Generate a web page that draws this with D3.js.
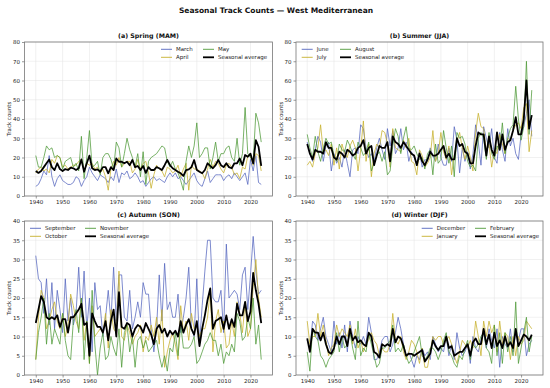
<!DOCTYPE html>
<html><head><meta charset="utf-8">
<script src="https://cdn.jsdelivr.net/npm/d3@7"></script>
<style>body{margin:0;background:#fff}svg{display:block;font-family:"DejaVu Sans",sans-serif}</style>
</head><body><svg id="c" width="550" height="388"></svg>
<script>
const years = [1940,1941,1942,1943,1944,1945,1946,1947,1948,1949,1950,1951,1952,1953,1954,1955,1956,1957,1958,1959,1960,1961,1962,1963,1964,1965,1966,1967,1968,1969,1970,1971,1972,1973,1974,1975,1976,1977,1978,1979,1980,1981,1982,1983,1984,1985,1986,1987,1988,1989,1990,1991,1992,1993,1994,1995,1996,1997,1998,1999,2000,2001,2002,2003,2004,2005,2006,2007,2008,2009,2010,2011,2012,2013,2014,2015,2016,2017,2018,2019,2020,2021,2022,2023,2024];
const xTicks = [1940,1950,1960,1970,1980,1990,2000,2010,2020];
const yTicksHigh = [0,10,20,30,40,50,60,70,80];
const yTicksLow = [0,5,10,15,20,25,30,35,40];

// Spring
const march = [5,6,9,13,11,21,10,5,9,11, 8,7,6,6,7,10,9,5,8,10, 15,12,10,8,11,10,9,7,10,8, 14,7,12,11,13,9,10,12,10,7, 8,5,7,9,10,8,9,8,7,10, 12,10,12,9,10,8,6,8,10,12, 8,6,5,9,13,7,9,11,11,11, 8,10,11,9,12,10,8,10,12,6, 19,13,21,7,6];
const april = [12,14,15,13,14,12,19,17,21,20, 15,16,14,15,16,16,18,19,13,17, 16,17,14,15,12,14,10,3,14,18, 16,20,15,17,18,18,12,14,19,14, 17,18,12,4,11,16,14,13,10,15, 14,12,13,16,10,14,17,3,16,14, 14,13,12,9,14,19,15,18,17,14, 12,16,17,15,11,12,9,15,14,21, 21,16,22,21,13];
const may = [21,15,15,20,26,24,25,20,21,20, 14,18,19,20,15,17,13,31,9,20, 34,15,16,18,11,20,22,22,19,14, 28,25,15,22,30,24,20,15,22,10, 23,6,18,20,21,22,24,26,25,18, 15,18,14,12,8,3,18,26,20,26, 38,20,22,25,25,14,20,28,18,22, 22,25,26,20,18,30,16,22,46,22, 20,18,43,38,28];
const springAvg = [13,12,13,15,17,19,15,13.5,17,14, 13,14,13.5,14.7,14.4,13.5,14.4,19,12.6,17, 21,14.4,13.5,13.8,12.6,15,15,11.8,15,13.5, 19.5,17.8,17.8,17,17.8,16,18.7,15,15.6,13.5, 15.6,12,15,13.5,13.5,15,14.4,13.5,16,18.7, 16,14.4,13.5,12.6,11.8,10.4,13.5,13.8,15,18.7, 13.5,12.6,11.8,13.5,17,15.6,14.4,16,18.7,16, 15,17,15,14.4,17,17,19.5,16,21.3,20.4, 22,17,29,25.6,15.6];

// Summer
const june = [28,22,18,24,31,28,18,26,28,13, 22,17,20,15,24,17,10,24,25,22, 37,35,25,20,22,18,25,30,24,19, 35,26,34,22,25,35,24,28,18,23, 20,17,23,15,19,18,25,21,18,27, 20,16,16,25,18,36,29,12,25,18, 23,14,22,37,28,16,36,30,25,35, 20,17,33,24,18,35,26,30,22,19, 32,36,43,50,31];
const july = [16,18,15,22,25,37,23,24,21,27, 16,25,14,27,22,20,26,29,25,13, 24,39,18,27,10,22,27,25,34,33, 27,15,35,25,24,23,29,25,30,18, 17,11,24,21,15,17,20,34,18,22, 33,23,19,26,11,21,28,33,25,19, 26,20,13,33,43,36,35,23,27,15, 24,22,32,27,22,30,29,34,37,38, 35,46,48,23,34];
const august = [32,25,20,31,23,18,25,30,27,28, 21,18,27,24,23,29,26,22,19,28, 25,21,23,28,13,17,21,23,18,23, 11,13,26,35,31,22,30,36,25,24, 26,22,19,20,14,22,24,11,27,17, 19,34,25,17,26,10,33,30,31,27, 18,15,16,13,30,33,30,19,33,22, 19,26,24,38,22,30,35,37,57,40, 29,36,70,32,55];
const summerAvg = [27,22,19,24,23,23,22,28,25,25, 20,19,23,22,20,24,23,21,22,25, 26,29,22,25,26,16,21,26,25,25, 28,18,31,28,27,25,28,26,24,22, 21,16,22,18,16,19,23,21,21,22, 24,26,20,22,19,19,30,26,27,23, 22,17,17,26,33,32,32,21,31,24, 21,33,24,32,24,28,29,34,41,32, 32,40,60,35,42];

// Autumn
const september = [31,25,24,16,25,13,24,12,22,17, 11,25,14,20,13,16,28,15,27,12, 20,6,24,17,18,10,15,22,14,28, 14,26,26,15,14,22,12,15,19,15, 24,21,21,12,6,12,26,14,29,17, 19,15,15,21,11,15,20,28,12,10, 25,8,18,27,35,35,20,19,19,22, 11,34,20,21,22,21,17,26,28,17, 26,36,27,21,22];
const october = [4,15,22,20,12,14,17,19,14,12, 16,10,13,21,18,14,12,20,9,14, 3,18,10,11,12,11,16,7,17,12, 11,27,10,9,13,11,8,10,11,13, 6,10,9,13,10,15,8,17,2,6, 9,11,8,4,18,11,14,9,16,12, 13,10,12,12,15,22,6,14,17,11, 14,7,8,14,10,19,16,11,19,10, 12,23,30,20,15];
const november = [4,11,15,20,8,16,8,12,10,8, 16,9,5,4,14,17,11,20,4,14, 3,22,8,0,7,11,4,5,10,7, 5,12,2,11,13,6,10,2,9,10, 7,9,6,7,8,9,5,2,5,1, 7,6,11,5,13,7,7,7,8,10, 3,4,6,8,9,11,9,9,5,8, 3,6,5,8,6,16,14,9,10,15, 12,20,8,13,4];
const autumnAvg = [13.5,17,20.5,19,15,14.5,15,14.5,15.5,12.5, 14.5,14.5,11,15,15,16,17,18.5,13,13.5, 5,16,14,12.5,12.5,11,14,9,14,17, 10,21.5,12.5,12,13.5,13,10,12,13,12.5, 11,13.5,12,10.5,8,12,13,11,12,10, 11.5,10.5,11.5,10,14,11,13,14.5,12,10.5, 14,7.5,12,15.5,19.5,22.5,12,14,14.5,15, 12,15.5,12,14.5,12.5,18.5,15.5,15.5,19,14, 16.5,26.5,22,18.5,13.5];

// Winter
const december = [9,7,14,13,9,12,15,10,8,6, 14,8,11,7,13,6,14,10,7,10, 8,10,8,15,11,4,4,6,9,10, 10,6,8,11,15,12,8,5,6,4, 2,5,4,7,5,6,4,10,8,6, 7,6,10,5,8,4,11,7,5,6, 8,3,10,7,6,9,11,7,12,9, 7,12,2,10,8,7,12,6,11,9, 12,12,5,8,9];
const january = [14,8,10,10,16,10,13,9,5,7, 8,13,10,12,11,10,13,8,12,7, 9,6,8,9,11,9,8,5,7,6, 6,8,16,9,8,10,6,4,6,9, 8,6,3,7,2,2,6,10,9,10, 10,8,9,10,8,5,3,6,9,8, 7,9,7,14,10,5,14,10,14,11, 13,6,14,8,11,10,4,10,5,10, 8,9,14,13,12];
const february = [6,1,12,10,9,5,4,2,4,5, 6,11,6,10,7,8,11,7,4,14, 5,7,6,11,8,5,2,3,7,7, 8,9,13,6,7,6,8,5,3,4, 6,8,10,5,4,5,7,7,6,4, 6,9,11,6,5,3,2,5,4,7, 9,4,8,7,8,10,11,7,6,3, 13,5,11,3,11,6,10,5,19,3, 7,11,15,6,10];
const winterAvg = [9.5,6,12,11,11,9,11,8,6,5.5, 7,10,8,10,10,7.5,12,9,10,8.5, 9,8,7.5,11,10,6,5.5,4.5,8,7.5, 8,7.5,12,8.5,10,9.5,7.5,5,5.5,5.5, 5,5.5,6,6.5,3.5,4.5,5.5,9,7.5,6.5, 7.5,7.5,10,7,7.5,5,5.5,6,6,7, 8,5,8.5,9.5,8,8,12,8,10.5,7, 11,7.5,9,7,10,7.5,8.5,7,12,7.5, 9,10.5,10,9,10.5];

const colBlue = "#5566bf", colYellow = "#c6b02c", colGreen = "#4f9a38";

const panels = [
  {title:"(a)  Spring (MAM)", names:["March","April","May"], series:[march,april,may], avg:springAvg, yTicks:yTicksHigh, yMax:80, legend:"right"},
  {title:"(b)  Summer (JJA)", names:["June","July","August"], series:[june,july,august], avg:summerAvg, yTicks:yTicksHigh, yMax:80, legend:"left"},
  {title:"(c)  Autumn (SON)", names:["September","October","November"], series:[september,october,november], avg:autumnAvg, yTicks:yTicksLow, yMax:40, legend:"left"},
  {title:"(d)  Winter (DJF)", names:["December","January","February"], series:[december,january,february], avg:winterAvg, yTicks:yTicksLow, yMax:40, legend:"right"}
];

const svg = d3.select("#c");
svg.append("text").attr("x",276).attr("y",13).attr("text-anchor","middle")
  .attr("font-weight","bold").attr("font-size",7.5).attr("fill","#111")
  .text("Seasonal Track Counts \u2014 West Mediterranean");

const boxes = [
  {x0:24.5,x1:272.5,y0:42,y1:196},
  {x0:296,x1:543,y0:42,y1:196},
  {x0:24.5,x1:272.5,y0:221,y1:375},
  {x0:296,x1:543,y0:221,y1:375}
];
const colors = [colBlue,colYellow,colGreen];

panels.forEach((p,i)=>{
  const b = boxes[i];
  const x = d3.scaleLinear().domain([1935.8,2028.2]).range([b.x0,b.x1]);
  const y = d3.scaleLinear().domain([0,p.yMax]).range([b.y1,b.y0]);
  const g = svg.append("g");
  g.append("g").selectAll("line").data(xTicks).join("line")
    .attr("x1",d=>x(d)).attr("x2",d=>x(d)).attr("y1",b.y0).attr("y2",b.y1)
    .attr("stroke","#e3e3e3").attr("stroke-width",0.5);
  g.append("g").selectAll("line").data(p.yTicks).join("line")
    .attr("y1",d=>y(d)).attr("y2",d=>y(d)).attr("x1",b.x0).attr("x2",b.x1)
    .attr("stroke","#e3e3e3").attr("stroke-width",0.5);
  const ax = g.append("g").attr("transform",`translate(0,${b.y1})`)
    .call(d3.axisBottom(x).tickValues(xTicks).tickFormat(d3.format("d")).tickSize(2.5).tickPadding(2));
  const ay = g.append("g").attr("transform",`translate(${b.x0},0)`)
    .call(d3.axisLeft(y).tickValues(p.yTicks).tickFormat(d3.format("d")).tickSize(2.5).tickPadding(2));
  [ax,ay].forEach(a=>{
    a.select(".domain").remove();
    a.selectAll(".tick line").attr("stroke","#555").attr("stroke-width",0.6);
    a.selectAll(".tick text").attr("font-size",5.5).attr("fill","#222").attr("font-family","DejaVu Sans");
  });
  const line = d3.line().x((d,k)=>x(years[k])).y(d=>y(d));
  p.series.forEach((s,k)=>{
    g.append("path").datum(s).attr("d",line).attr("fill","none")
      .attr("stroke",colors[k]).attr("stroke-width",0.85).attr("stroke-opacity",0.9)
      .attr("stroke-linejoin","round");
  });
  g.append("path").datum(p.avg).attr("d",line).attr("fill","none")
    .attr("stroke","#000").attr("stroke-width",1.8).attr("stroke-linejoin","round");
  g.append("rect").attr("x",b.x0).attr("y",b.y0).attr("width",b.x1-b.x0).attr("height",b.y1-b.y0)
    .attr("fill","none").attr("stroke","#777").attr("stroke-width",0.8);
  g.append("text").attr("x",(b.x0+b.x1)/2).attr("y",b.y0-4.5).attr("text-anchor","middle")
    .attr("font-weight","bold").attr("font-size",6.3).attr("fill","#111").text(p.title);
  g.append("text").attr("transform",`translate(${b.x0-13.5},${(b.y0+b.y1)/2}) rotate(-90)`)
    .attr("text-anchor","middle").attr("font-size",5.5).attr("fill","#222").text("Track counts");
  const items = [
    {name:p.names[0],col:colBlue,w:0.9},{name:p.names[1],col:colYellow,w:0.9},
    {name:p.names[2],col:colGreen,w:0.9},{name:"Seasonal average",col:"#000",w:1.8}
  ];
  let c1, c2;
  if (p.legend==="right") {
    if (i===0) { c1=b.x1-111.5; c2=b.x1-69.5; }
    else { c1=b.x1-121.3; c2=b.x1-68; }
  } else {
    if (i===1) { c1=b.x0+5.7; c2=b.x0+44; }
    else { c1=b.x0+5.5; c2=b.x0+60.5; }
  }
  const rows=[b.y0+7.3,b.y0+15.3];
  items.forEach((it,k)=>{
    const cx = k<2?c1:c2, cy = rows[k%2];
    g.append("line").attr("x1",cx).attr("x2",cx+11).attr("y1",cy).attr("y2",cy)
      .attr("stroke",it.col).attr("stroke-width",it.w);
    g.append("text").attr("x",cx+15).attr("y",cy).attr("dy","0.35em")
      .attr("font-size",5.5).attr("fill","#222").text(it.name);
  });
});
</script></body></html>
